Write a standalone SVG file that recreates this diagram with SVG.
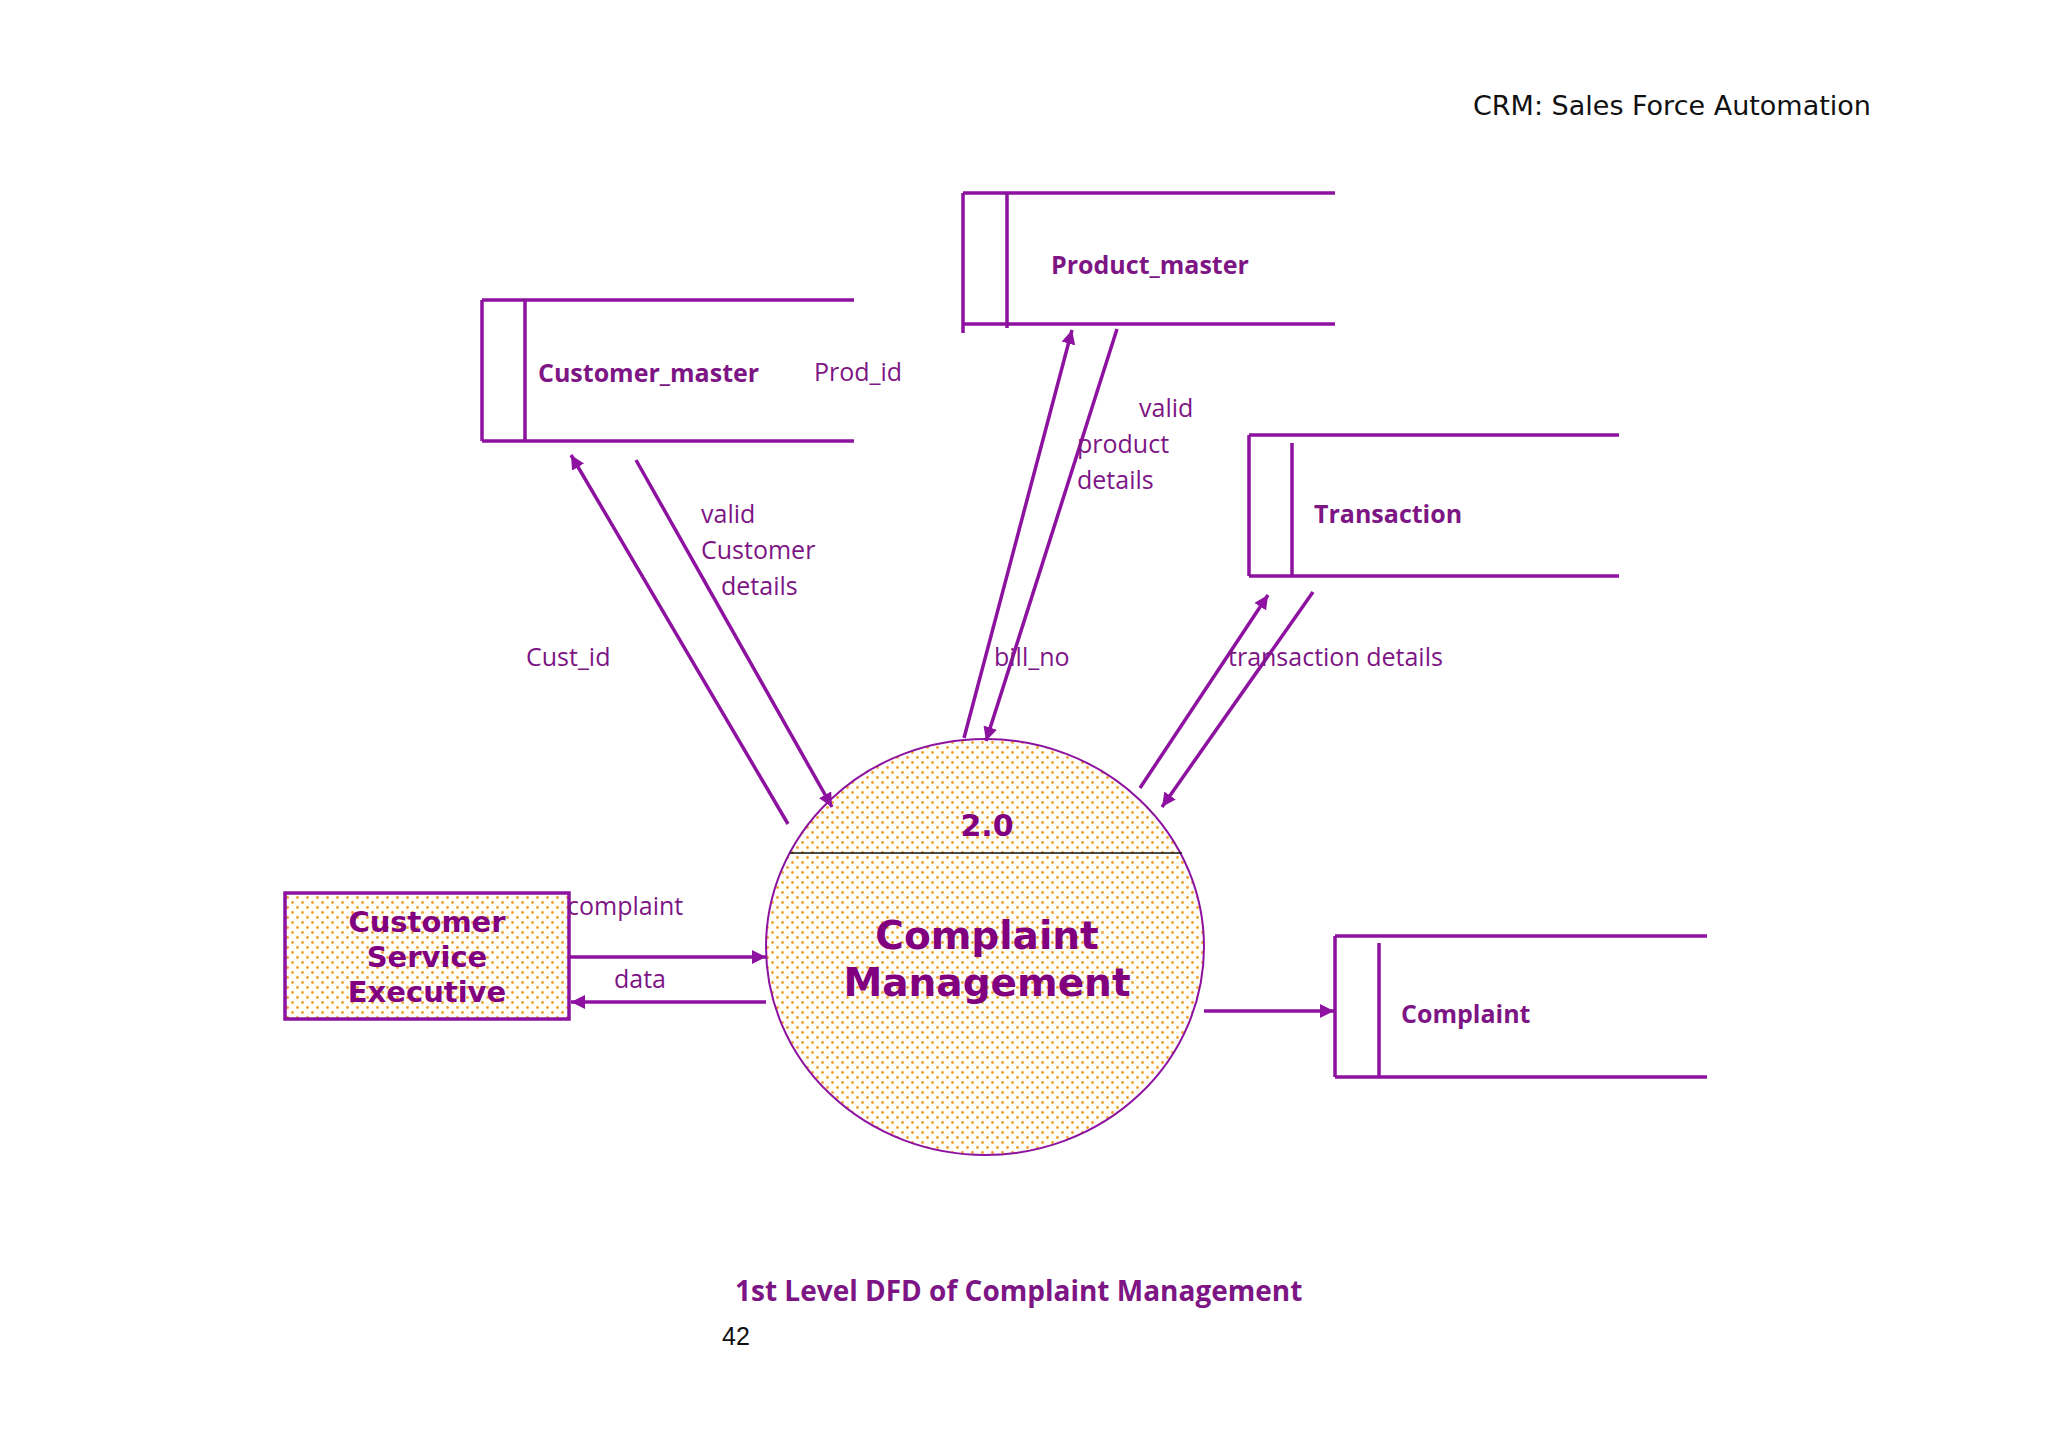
<svg xmlns="http://www.w3.org/2000/svg" width="2048" height="1449" viewBox="0 0 2048 1449">
<style>
.ln{stroke:#8e12a0;stroke-width:3.5;fill:none}
.st{stroke:#8e12a0;stroke-width:3.5;fill:none}
.lb{font-family:"Open Sans","Liberation Sans",sans-serif;font-size:25px;fill:#7d1585}
.sn{font-family:"Open Sans","Liberation Sans",sans-serif;font-size:25px;font-weight:bold;fill:#7d1585}
.bd{font-family:"DejaVu Sans",sans-serif;font-weight:bold;fill:#800080;text-anchor:middle}
</style>
<defs>
<pattern id="dots" width="10" height="10" patternUnits="userSpaceOnUse">
<rect width="10" height="10" fill="#fffef9"/>
<circle cx="2.5" cy="2.5" r="1.4" fill="#f0a030"/>
<circle cx="7.5" cy="7.5" r="1.4" fill="#f0a030"/>
</pattern>
<marker id="ah" viewBox="0 0 10 10" refX="10" refY="5" markerWidth="4" markerHeight="4" orient="auto" markerUnits="strokeWidth">
<path d="M0,0 L10,5 L0,10 z" fill="#8e12a0"/>
</marker>
</defs>
<rect width="2048" height="1449" fill="#fff"/>
<text x="1473" y="115" font-family="DejaVu Sans,sans-serif" font-size="27" fill="#111">CRM: Sales Force Automation</text>

<g id="customer_master">
<path class="st" d="M482,300 H854 M482,441 H854 M482,300 V441 M525,300 V441"/>
<text class="sn" x="538" y="382">Customer_master</text>
</g>
<g id="product_master">
<path class="st" d="M963,193 H1335 M963,324 H1335 M963,193 V333 M1007,193 V328"/>
<text class="sn" x="1051" y="274">Product_master</text>
</g>
<g id="transaction">
<path class="st" d="M1249,435 H1619 M1249,576 H1619 M1249,435 V576 M1292,443 V576"/>
<text class="sn" x="1314" y="523">Transaction</text>
</g>
<g id="complaint_store">
<path class="st" d="M1335,936 H1707 M1335,1077 H1707 M1335,936 V1077 M1379,943 V1077"/>
<text class="sn" x="1401" y="1023">Complaint</text>
</g>
<g id="cse">
<rect x="285" y="893" width="284" height="126" fill="url(#dots)" stroke="#8e12a0" stroke-width="3.5"/>
<text class="bd" font-size="29" x="427" y="932">Customer</text>
<text class="bd" font-size="29" x="427" y="967">Service</text>
<text class="bd" font-size="29" x="427" y="1002">Executive</text>
</g>
<g id="process">
<ellipse cx="985" cy="947" rx="219" ry="208" fill="url(#dots)" stroke="#8e12a0" stroke-width="2"/>
<line x1="790" y1="853" x2="1182" y2="853" stroke="#111" stroke-width="1.5"/>
<text class="bd" font-size="30" x="987" y="836">2.0</text>
<text class="bd" font-size="39" x="987" y="949">Complaint</text>
<text class="bd" font-size="39" x="987" y="996">Management</text>
</g>

<g id="connectors">
<line class="ln" x1="788" y1="824" x2="571" y2="455" marker-end="url(#ah)"/>
<line class="ln" x1="636" y1="460" x2="832" y2="807" marker-end="url(#ah)"/>
<line class="ln" x1="964" y1="738" x2="1072" y2="330" marker-end="url(#ah)"/>
<line class="ln" x1="1117" y1="329" x2="986" y2="741" marker-end="url(#ah)"/>
<line class="ln" x1="1140" y1="788" x2="1268" y2="595" marker-end="url(#ah)"/>
<line class="ln" x1="1313" y1="592" x2="1162" y2="807" marker-end="url(#ah)"/>
<line class="ln" x1="569" y1="957" x2="766" y2="957" marker-end="url(#ah)"/>
<line class="ln" x1="766" y1="1002" x2="571" y2="1002" marker-end="url(#ah)"/>
<line class="ln" x1="1204" y1="1011" x2="1334" y2="1011" marker-end="url(#ah)"/>
</g>
<g id="labels">
<text class="lb" x="814" y="381">Prod_id</text>
<text class="lb" x="701" y="523">valid</text>
<text class="lb" x="701" y="559">Customer</text>
<text class="lb" x="721" y="595">details</text>
<text class="lb" x="526" y="666">Cust_id</text>
<text class="lb" x="1139" y="417">valid</text>
<text class="lb" x="1077" y="453">product</text>
<text class="lb" x="1077" y="489">details</text>
<text class="lb" x="994" y="666">bill_no</text>
<text class="lb" x="1228" y="666">transaction details</text>
<text class="lb" x="567" y="915">complaint</text>
<text class="lb" x="614" y="988">data</text>
</g>
<text x="735" y="1301" font-family="Open Sans,Liberation Sans,sans-serif" font-size="28" font-weight="bold" fill="#7d1585">1st Level DFD of Complaint Management</text>
<text x="722" y="1345" font-family="Liberation Sans Narrow,Liberation Sans,sans-serif" font-size="25" fill="#111">42</text>
</svg>
